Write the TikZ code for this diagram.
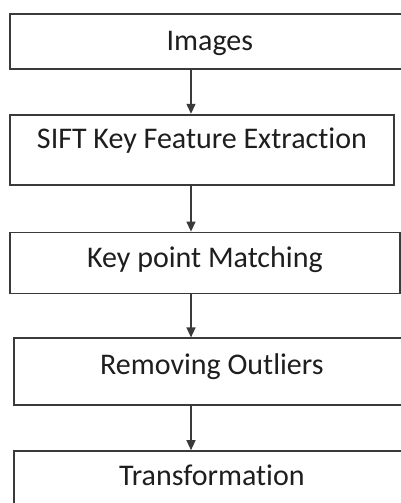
\documentclass[tikz,border=0pt]{standalone}
\usepackage{fontspec}
\setmainfont{Carlito}[Ligatures=NoCommon]
\usepackage{xcolor}
\usetikzlibrary{positioning,arrows.meta}
\definecolor{edgeGray}{HTML}{3A3A3A}
\definecolor{textGray}{HTML}{1E1E1E}
\tikzset{
  stageBox/.style={
    rectangle,
    draw=edgeGray,
    line width=1.8pt,
    fill=white,
    inner xsep=0pt,
    inner ysep=0pt,
    anchor=north west,
    text=textGray
  },
  arrowLine/.style={
    -{Triangle[length=10pt,width=9pt]},
    line width=1.3pt,
    draw=edgeGray
  }
}

\begin{document}
\begin{tikzpicture}[
            x=1pt, y=-1pt,
            every node/.style={font=\fontsize{30}{35}\selectfont}
        ]
        \useasboundingbox (0,0) rectangle (401,503);
        \fill[white] (0,0) rectangle (401,503);
        \clip (0,0) rectangle (401,503);

        \node[stageBox, minimum width=400pt, text height=37pt, text depth=18pt] (images) at (9,13) {Images};
        \node[stageBox, minimum width=384pt, text height=34pt, text depth=36pt, below=44pt of images.south west, anchor=north west] (sift) {SIFT Key Feature Extraction};
        \node[stageBox, minimum width=390pt, text height=35pt, text depth=26pt, below=46pt of sift.south west, anchor=north west] (keypoint) {Key point Matching};
        \node[stageBox, minimum width=396pt, text height=36pt, text depth=31pt, below=43pt of keypoint.south west, xshift=4pt, anchor=north west] (outliers) {Removing Outliers};
        \node[stageBox, minimum width=396pt, text height=34pt, text depth=42pt, below=44pt of outliers.south west, anchor=north west] (transform) {Transformation};

        \coordinate (spine) at (191,0);
        \draw[arrowLine] (images.south -| spine) -- (sift.north -| spine);
        \draw[arrowLine] (sift.south -| spine) -- (keypoint.north -| spine);
        \draw[arrowLine] (keypoint.south -| spine) -- (outliers.north -| spine);
        \draw[arrowLine] (outliers.south -| spine) -- (transform.north -| spine);

    \end{tikzpicture}
\end{document}
